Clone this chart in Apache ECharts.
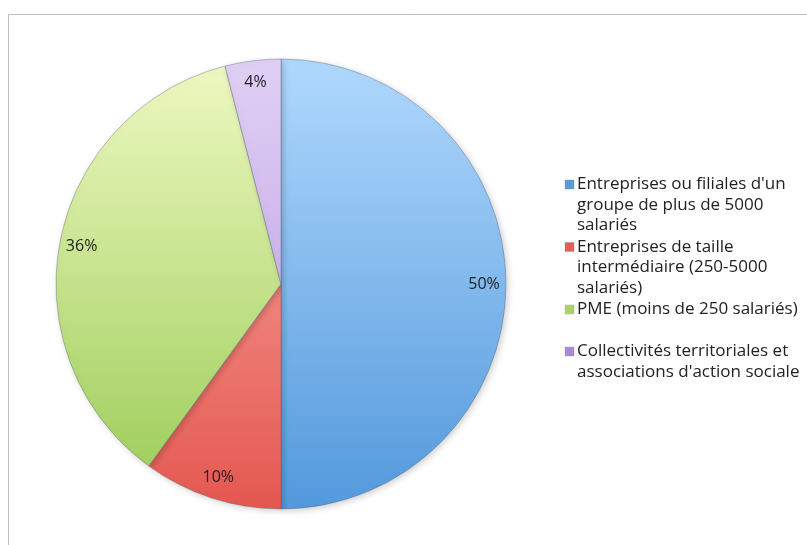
<!DOCTYPE html>
<html>
<head>
<meta charset="utf-8">
<script src="https://cdn.jsdelivr.net/npm/echarts@6/dist/echarts.min.js"></script>
<style>
  html, body { margin: 0; padding: 0; background: #fff; }
  #echarts { width: 807px; height: 545px; }
</style>
</head>
<body>
<div id="echarts"></div>
<script>
// Données du graphique
var categories = [
    "Entreprises ou filiales d'un groupe de plus de 5000 salariés",
    "Entreprises de taille intermédiaire (250-5000 salariés)",
    "PME (moins de 250 salariés)",
    "Collectivités territoriales et associations d'action sociale"
];
var values = [50, 10, 36, 4];
// Lignes de la légende (comme dans l'image)
var legendLines = [
    ["Entreprises ou filiales d'un", "groupe de plus de 5000", "salariés"],
    ["Entreprises de taille", "intermédiaire (250-5000", "salariés)"],
    ["PME (moins de 250 salariés)", ""],
    ["Collectivités territoriales et", "associations d'action sociale"]
];
var topColors = ['#b0d8fd', '#fbb0aa', '#eef9c2', '#e0cff5'];
var bottomColors = ['#5399dc', '#e45850', '#9acb55', '#b496de'];
var legendColors = ['#5b9bd5', '#e0605a', '#a9d26a', '#a88ad6'];

var chart = echarts.init(document.getElementById('echarts'));

var cx = 281, cy = 284, r = 225;
var font = "'Open Sans', sans-serif";

function gradient(i) {
    return {
        type: 'linear', x: 0, y: cy - r, x2: 0, y2: cy + r, global: true,
        colorStops: [
            { offset: 0, color: topColors[i] },
            { offset: 1, color: bottomColors[i] }
        ]
    };
}

var pieData = categories.map(function (name, i) {
    return { name: name, value: values[i], itemStyle: { color: gradient(i) } };
});

var rich = {
    t: { fontSize: 17, lineHeight: 20.5, color: '#222', fontFamily: font },
    gap: { width: 3, height: 10 },
    ind: { width: 12, height: 10 }
};
legendColors.forEach(function (c, i) {
    rich['sq' + i] = { width: 9, height: 9, backgroundColor: c, borderColor: 'rgba(0,0,0,0.15)', borderWidth: 0.5 };
});

var options = {
    backgroundColor: '#fff',
    animation: false,
    graphic: [{
        type: 'rect',
        shape: { x: 8.5, y: 14.5, width: 900, height: 600 },
        style: { fill: 'none', stroke: '#bdbdbd', lineWidth: 1 },
        silent: true,
        z: -10
    }],
    legend: {
        orient: 'vertical',
        left: 554,
        top: 171,
        itemWidth: 0,
        itemHeight: 10,
        itemGap: 4.5,
        icon: 'rect',
        itemStyle: { opacity: 0 },
        selectedMode: false,
        data: categories,
        formatter: function (name) {
            var i = categories.indexOf(name);
            return legendLines[i].map(function (line, k) {
                var head = k === 0 ? '{sq' + i + '|}{gap|}' : '{ind|}';
                return head + '{t|' + (line === '' ? ' ' : line) + '}';
            }).join('\n');
        },
        textStyle: { rich: rich }
    },
    series: [
        {
            name: 'Répartition',
            type: 'pie',
            center: [cx, cy],
            radius: [0, r],
            startAngle: 90,
            clockwise: true,
            label: { show: false },
            labelLine: { show: false },
            emphasis: { disabled: true },
            itemStyle: {
                borderColor: 'rgba(90,100,120,0.4)',
                borderWidth: 1,
                shadowBlur: 6,
                shadowOffsetX: 2,
                shadowOffsetY: 2,
                shadowColor: 'rgba(0,0,0,0.18)'
            },
            data: pieData
        },
        {
            // anneau invisible utilisé seulement pour placer les étiquettes
            name: 'Étiquettes',
            type: 'pie',
            center: [cx, cy],
            radius: [r - 50, r],
            startAngle: 90,
            clockwise: true,
            silent: true,
            itemStyle: { color: 'transparent', borderWidth: 0 },
            label: {
                show: true,
                position: 'inside',
                formatter: '{c}%',
                fontSize: 16,
                color: '#222',
                fontFamily: font
            },
            labelLine: { show: false },
            emphasis: { disabled: true },
            data: categories.map(function (name, i) {
                return { name: name, value: values[i] };
            })
        }
    ]
};

chart.setOption(options);
</script>
</body>
</html>
